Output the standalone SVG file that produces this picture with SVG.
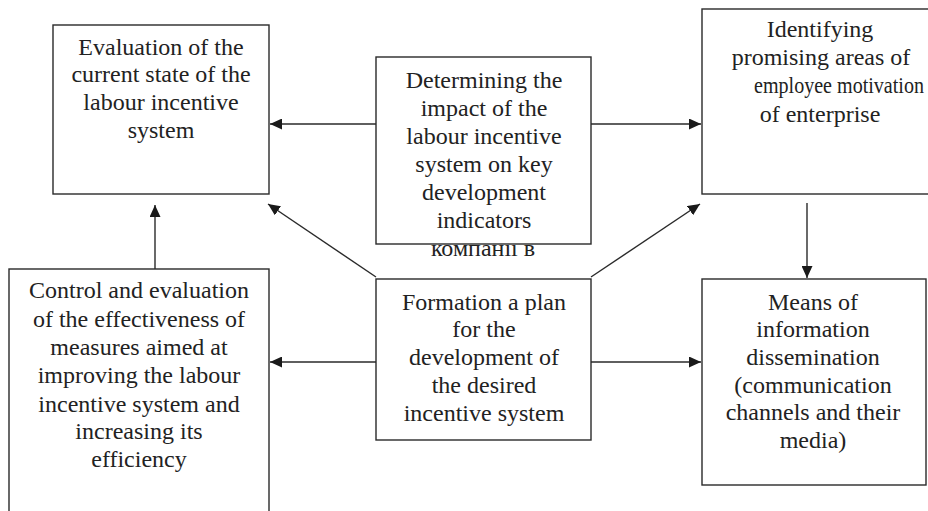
<svg xmlns="http://www.w3.org/2000/svg" width="928" height="511" viewBox="0 0 928 511">
<style>
.box{fill:#fff;stroke:#2a2a2a;stroke-width:1.4}
.t{font-family:'Liberation Serif','Times New Roman',Tinos,'DejaVu Serif',serif;font-size:24px;fill:#222;text-anchor:middle}
.c{stroke:#2a2a2a;stroke-width:1.4;fill:none;marker-end:url(#ah)}
</style>
<defs>
<marker id="ah" markerUnits="userSpaceOnUse" markerWidth="13" markerHeight="11" refX="12" refY="5.5" orient="auto">
<path d="M0,0 L12,5.5 L0,11 Z" fill="#1a1a1a"/>
</marker>
</defs>
<rect width="928" height="511" fill="#fff"/>
<g id="connectors">
<line class="c" x1="376" y1="124" x2="270" y2="124"/>
<line class="c" x1="591" y1="124" x2="701" y2="124"/>
<line class="c" x1="376" y1="277" x2="268" y2="204"/>
<line class="c" x1="591" y1="277" x2="700" y2="204"/>
<line class="c" x1="155" y1="269" x2="155" y2="205"/>
<line class="c" x1="807" y1="203" x2="807" y2="278"/>
<line class="c" x1="376" y1="362" x2="270" y2="362"/>
<line class="c" x1="591" y1="362" x2="701" y2="362"/>
</g>
<g id="n1">
<rect class="box" x="53" y="25" width="216" height="169"/>
<text class="t" x="161" y="55">Evaluation of the</text>
<text class="t" x="161" y="82">current state of the</text>
<text class="t" x="161" y="110">labour incentive</text>
<text class="t" x="161" y="138">system</text>
</g>
<g id="n2">
<text class="t" x="483" y="256">компанії  в</text>
<rect class="box" x="376" y="57" width="215" height="187"/>
<text class="t" x="484" y="88">Determining the</text>
<text class="t" x="484" y="116">impact of the</text>
<text class="t" x="484" y="144">labour incentive</text>
<text class="t" x="484" y="172">system on key</text>
<text class="t" x="484" y="200">development</text>
<text class="t" x="484" y="228">indicators</text>
</g>
<g id="n3">
<rect class="box" x="702" y="9" width="240" height="185"/>
<text class="t" x="820" y="37">Identifying</text>
<text class="t" x="821" y="65">promising areas of</text>
<text class="t" x="839" y="93" textLength="170" lengthAdjust="spacingAndGlyphs">employee motivation</text>
<text class="t" x="820" y="122">of enterprise</text>
</g>
<g id="n4">
<rect class="box" x="9" y="269" width="260" height="260"/>
<text class="t" x="139" y="298">Control and evaluation</text>
<text class="t" x="139" y="327">of the effectiveness of</text>
<text class="t" x="139" y="355">measures aimed at</text>
<text class="t" x="139" y="383">improving the labour</text>
<text class="t" x="139" y="412">incentive system and</text>
<text class="t" x="139" y="439">increasing its</text>
<text class="t" x="139" y="467">efficiency</text>
</g>
<g id="n5">
<rect class="box" x="376" y="279" width="215" height="161"/>
<text class="t" x="484" y="310">Formation a plan</text>
<text class="t" x="484" y="337">for the</text>
<text class="t" x="484" y="365">development of</text>
<text class="t" x="484" y="393">the desired</text>
<text class="t" x="484" y="421">incentive system</text>
</g>
<g id="n6">
<rect class="box" x="702" y="279" width="224" height="206"/>
<text class="t" x="813" y="310">Means of</text>
<text class="t" x="813" y="337">information</text>
<text class="t" x="813" y="365">dissemination</text>
<text class="t" x="813" y="393">(communication</text>
<text class="t" x="813" y="420">channels and their</text>
<text class="t" x="813" y="448">media)</text>
</g>
</svg>
